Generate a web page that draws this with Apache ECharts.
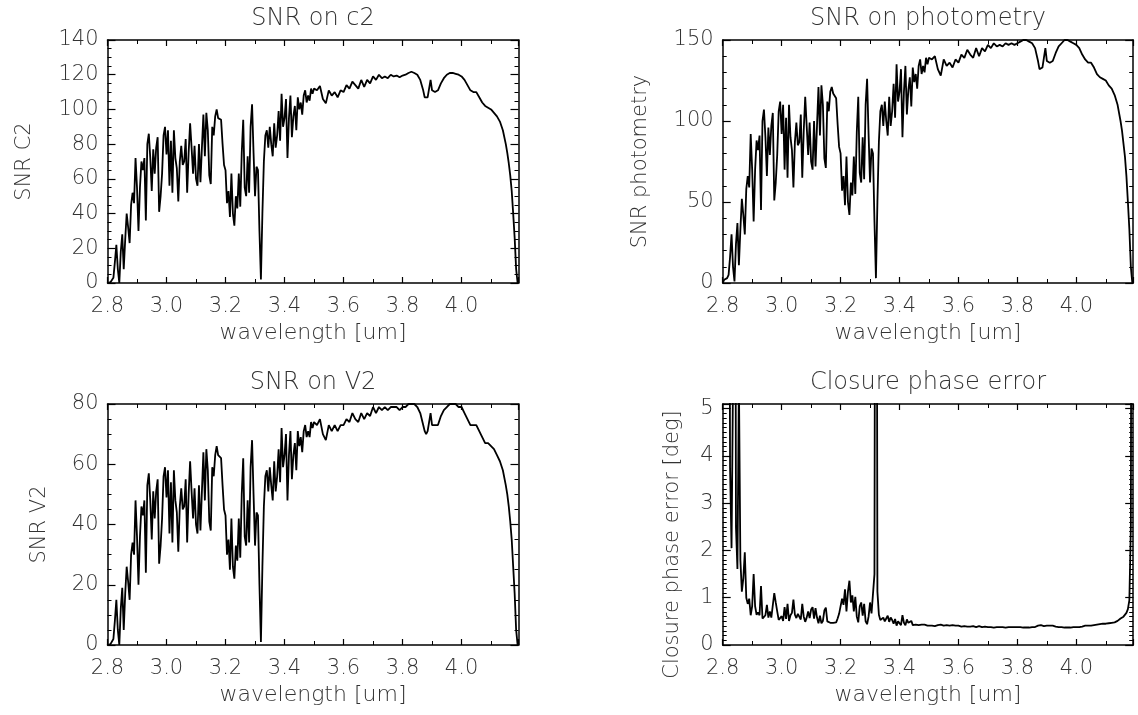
<!DOCTYPE html>
<html><head><meta charset="utf-8">
<script src="https://cdn.jsdelivr.net/npm/echarts@6/dist/echarts.min.js"></script>
<style>html,body{margin:0;padding:0;background:#fff}#c{width:1138px;height:715px}</style>
</head><body><div id="c"></div>
<script>
// ---------------- data ----------------
const wavelength = [
2.8,2.805,2.81,2.815,2.82,2.825,2.83,2.835,2.84,2.845,
2.85,2.855,2.86,2.865,2.87,2.875,2.88,2.885,2.89,2.895,
2.9,2.905,2.91,2.915,2.92,2.925,2.93,2.935,2.94,2.945,
2.95,2.955,2.96,2.965,2.97,2.975,2.98,2.985,2.99,2.995,
3.0,3.005,3.01,3.015,3.02,3.025,3.03,3.035,3.04,3.045,
3.05,3.055,3.06,3.065,3.07,3.075,3.08,3.085,3.09,3.095,
3.1,3.105,3.11,3.115,3.12,3.125,3.13,3.135,3.14,3.145,
3.15,3.155,3.16,3.165,3.17,3.175,3.18,3.185,3.19,3.195,
3.2,3.205,3.21,3.215,3.22,3.225,3.23,3.235,3.24,3.245,
3.25,3.255,3.26,3.265,3.27,3.275,3.28,3.285,3.29,3.295,
3.3,3.305,3.31,3.315,3.32,3.325,3.33,3.335,3.34,3.345,
3.35,3.355,3.36,3.365,3.37,3.375,3.38,3.385,3.39,3.395,
3.4,3.405,3.41,3.415,3.42,3.425,3.43,3.435,3.44,3.445,
3.45,3.455,3.46,3.465,3.47,3.475,3.48,3.485,3.49,3.495,
3.5,
3.51,3.52,3.53,3.54,3.55,3.56,3.57,3.58,3.59,3.6,
3.61,3.62,3.63,3.64,3.65,3.66,3.67,3.68,3.69,3.7,
3.71,3.72,3.73,3.74,3.75,3.76,3.77,3.78,3.79,3.8,
3.81,3.82,3.83,3.84,3.85,3.86,3.87,3.875,3.88,3.885,3.89,3.895,3.9,3.91,3.92,
3.93,3.94,3.95,3.96,3.97,3.98,3.99,4.0,
4.01,4.02,4.03,4.04,4.05,4.06,4.07,4.08,4.09,4.1,
4.11,4.12,4.13,4.14,4.15,
4.155,4.16,4.165,4.17,4.175,4.18,4.185,4.19
];
const snrC2 = [
0,1,0.5,1,3,12,22,8,0,18,
28,8,25,40,32,23,45,52,46,72,
55,30,55,70,65,72,36,80,86,72,
53,77,63,78,84,41,50,63,85,90,
74,88,56,82,52,88,72,66,47,70,
79,68,70,83,52,75,92,78,63,79,
60,56,80,58,78,97,73,98,88,62,
57,90,85,96,100,95,96,94,80,68,
65,46,53,38,63,40,33,50,43,63,
44,75,94,55,50,73,52,90,103,75,
50,67,65,30,2,40,70,85,88,78,
90,80,73,92,78,85,99,82,109,90,
95,106,72,95,108,84,96,102,88,107,
100,104,97,108,111,104,108,105,112,109,
112,
111,113.5,106,103.5,111,108,110,107,111,110,
114,112,116,114,112,117,113,117,115,119,
117,120,118,119,118,120,119,119.5,118.5,119.5,
120,121,121.7,121,120,117,111,107,106,107,112,117,111,110,111,
115,118,120,121,121,120.5,120,119,
117,114,111,110,110,107,104,102,101,100,
98,96,93,88,80,
75,69,62,53,40,26,8,0
];
const snrPhotometry = [
0,2,1,3,5,16,30,10,1,24,
37,11,33,52,42,30,58,66,59,92,
70,38,70,88,82,91,45,100,107,90,
66,96,79,97,105,51,62,79,106,112,
92,110,70,102,65,110,90,82,59,87,
99,85,87,104,65,94,115,97,79,99,
75,70,100,72,97,121,91,122,110,77,
71,112,106,118,121,117,117,114,98,84,
80,57,66,48,78,50,42,62,54,78,
55,93,115,68,62,90,64,110,126,92,
62,83,80,38,3,50,87,106,110,97,
112,100,91,115,97,106,123,102,135,112,
118,132,90,118,134,104,119,127,109,133,
124,129,120,134,138,129,134,130,139,135,
139,
138,140,132,128,138,134,136,133,138,136,
141,139,144,141,139,145,140,145,143,147,
145,148,146,147,146,148,147,148,147,148,
149,150,150,149,148,145,137,132,131,133,139,145,137,136,137,
142,146,148,150,150,149,148,147,
145,141,138,136,136,133,129,127,126,125,
122,120,116,110,100,
94,86,78,66,50,33,10,0
];
const snrV2 = [
0,0.5,0.3,0.5,2,8,15,5,0,12,
19,5,17,26,21,15,30,34,30,48,
36,20,36,46,43,48,24,53,57,48,
35,51,42,51,55,27,33,42,56,59,
49,58,37,54,34,58,48,44,31,46,
52,45,46,55,34,50,61,51,42,52,
40,37,53,38,51,64,48,65,58,41,
38,59,56,63,66,63,63,62,53,45,
43,30,35,25,42,26,22,33,28,42,
29,50,62,36,33,48,34,59,68,50,
33,44,43,20,1,26,46,56,58,51,
59,53,48,61,51,56,65,54,72,59,
63,70,48,63,71,55,63,67,58,71,
66,69,64,71,73,69,71,69,74,72,
74,
73,75,70,68,73,71,73,71,73,73,
75,74,77,75,74,77,75,77,76,79,
77,79,78,79,78,79,79,79,78,79,
79,80,80,80,79,77,73,71,70,71,74,77,73,73,73,
76,78,79,80,80,80,79,79,
77,75,73,73,73,71,69,67,67,66,
65,63,61,58,53,
50,46,41,35,26,17,5,0
];
const closurePhaseError = [
20,20,20,20,15,3.75,2.05,5.6,20,2.5,
1.61,5.6,1.8,1.13,1.41,1.96,1.0,0.87,0.98,0.63,
0.82,1.5,0.82,0.64,0.69,0.63,1.25,0.56,0.52,0.63,
0.85,0.58,0.71,0.58,0.54,1.1,0.9,0.71,0.53,0.5,
0.61,0.51,0.8,0.55,0.87,0.51,0.63,0.68,0.96,0.64,
0.57,0.66,0.64,0.54,0.87,0.6,0.49,0.58,0.71,0.57,
0.75,0.8,0.56,0.78,0.58,0.46,0.62,0.46,0.51,0.73,
0.79,0.5,0.53,0.47,0.45,0.47,0.47,0.48,0.56,0.66,
0.69,0.98,0.85,1.18,0.71,1.13,1.36,0.9,1.05,0.71,
1.02,0.6,0.48,0.82,0.9,0.62,0.87,0.5,0.44,0.6,
0.9,0.67,0.69,1.5,20,1.13,0.64,0.53,0.51,0.58,
0.5,0.56,0.62,0.49,0.58,0.53,0.45,0.55,0.41,0.5,
0.47,0.42,0.63,0.47,0.42,0.54,0.47,0.44,0.51,0.42,
0.45,0.43,0.46,0.42,0.41,0.43,0.42,0.43,0.4,0.41,
0.4,
0.41,0.4,0.42,0.43,0.41,0.42,0.41,0.42,0.41,0.41,
0.39,0.4,0.39,0.39,0.4,0.38,0.4,0.38,0.39,0.38,
0.38,0.37,0.38,0.38,0.38,0.37,0.38,0.38,0.38,0.38,
0.38,0.37,0.37,0.37,0.38,0.38,0.41,0.42,0.42,0.42,0.4,0.38,0.41,0.41,0.41,
0.39,0.38,0.38,0.37,0.37,0.37,0.38,0.38,
0.38,0.39,0.41,0.41,0.41,0.42,0.43,0.44,0.45,0.45,
0.46,0.47,0.48,0.51,0.56,
0.58,0.6,0.63,0.68,0.76,0.95,2.5,20
];
const xTickLabels = ['2.8','3.0','3.2','3.4','3.6','3.8','4.0'];
const panelTitles = ['SNR on c2','SNR on photometry','SNR on V2','Closure phase error'];
const yNames = ['SNR C2','SNR photometry','SNR V2','Closure phase error [deg]'];
const xName = 'wavelength [um]';
const yMax = [140,150,80,5.1];
const yStep = [20,50,20,1];
const yMinorSplit = [4,5,4,10];
const panelData = [snrC2, snrPhotometry, snrV2, closurePhaseError];

// ---------------- layout / style ----------------
const FONT = 'DejaVu Sans';
const FW = 200;
const TXT = '#333';
const grids = [
  {left:107.5, top:40, width:411, height:243},
  {left:722.7, top:40, width:410.5, height:243},
  {left:107.5, top:404, width:411, height:241},
  {left:722.7, top:404, width:410.5, height:241}
];
const yNameGap = [72, 72, 57, 40];
const yNamePad = [0, 0, 0, [0,40,0,0]];

const lineBlack = {color:'#000', width:1.5};
function fmtX(v){ const s=v.toFixed(1); return (Math.abs(v-parseFloat(s))<1e-6 && xTickLabels.indexOf(s)>=0)?s:''; }

const xAxis=[], yAxis=[], series=[], graphic=[];
grids.forEach((g,i)=>{
  const xBase = {type:'value', gridIndex:i, min:2.8, max:4.193, interval:0.2,
    splitLine:{show:false}, minorSplitLine:{show:false},
    axisLine:{show:true,onZero:false,lineStyle:lineBlack},
    axisTick:{show:true,inside:true,length:6,lineStyle:{color:'#000',width:1.2}},
    minorTick:{show:true,splitNumber:2,length:4,lineStyle:{color:'#000',width:1}}};
  const xi = xAxis.length;
  xAxis.push(Object.assign({}, xBase, {position:'bottom',
    axisLabel:{show:true,margin:13,color:TXT,fontSize:21,fontWeight:FW,fontFamily:FONT,formatter:fmtX},
    name:xName, nameLocation:'middle', nameGap:39,
    nameTextStyle:{color:TXT,fontSize:22,fontWeight:FW,fontFamily:FONT}}));
  xAxis.push(Object.assign({}, xBase, {position:'top', axisLabel:{show:false}}));

  const step = yStep[i];
  const useMinor = (i !== 3);
  const yBase = {type:'value', gridIndex:i, min:0, max:yMax[i], interval:step,
    splitLine:{show:false}, minorSplitLine:{show:false},
    axisLine:{show:true,onZero:false,lineStyle:lineBlack},
    axisTick:{show:true,inside:true,length:8,lineStyle:{color:'#000',width:1.2}},
    minorTick:{show:useMinor,splitNumber:yMinorSplit[i],length:4,lineStyle:{color:'#000',width:1}}};
  const yi = yAxis.length;
  const nts = {color:TXT,fontSize:21,fontWeight:FW,fontFamily:FONT};
  if (yNamePad[i]) nts.padding = yNamePad[i];
  yAxis.push(Object.assign({}, yBase, {position:'left',
    axisLabel:{show:true,margin:9,color:TXT,fontSize:21,fontWeight:FW,fontFamily:FONT,
      formatter:v=>{const r=Math.round(v/step)*step; return Math.abs(v-r)<1e-6?String(+r.toFixed(2)):'';}},
    name:yNames[i], nameLocation:'middle', nameGap:yNameGap[i], nameTextStyle:nts}));
  yAxis.push(Object.assign({}, yBase, {position:'right', axisLabel:{show:false}}));
  if (!useMinor) {
    const m = {type:'value', gridIndex:i, min:0, max:yMax[i], interval:0.1,
      splitLine:{show:false}, axisLine:{show:false}, axisLabel:{show:false},
      axisTick:{show:true,inside:true,length:4,lineStyle:{color:'#000',width:1}}};
    yAxis.push(Object.assign({}, m, {position:'left'}));
    yAxis.push(Object.assign({}, m, {position:'right'}));
  }

  series.push({type:'line', xAxisIndex:xi, yAxisIndex:yi, showSymbol:false, symbol:'none',
    clip:true, animation:false, smooth:false,
    lineStyle:{color:'#000', width:1.8}, itemStyle:{color:'#000'},
    data: wavelength.map((w,k)=>[w, panelData[i][k]])});

  graphic.push({type:'text', x:g.left+g.width/2, y:g.top-21,
    style:{text:panelTitles[i], fill:TXT, fontSize:24, fontWeight:FW, fontFamily:FONT,
      align:'center', verticalAlign:'middle', textAlign:'center', textVerticalAlign:'middle'}});
});

const chart = echarts.init(document.getElementById('c'), null, {renderer:'canvas'});
chart.setOption({
  backgroundColor:'#fff', animation:false,
  grid: grids.map(g=>Object.assign({containLabel:false}, g)),
  xAxis, yAxis, series, graphic
});
</script>
</body></html>
